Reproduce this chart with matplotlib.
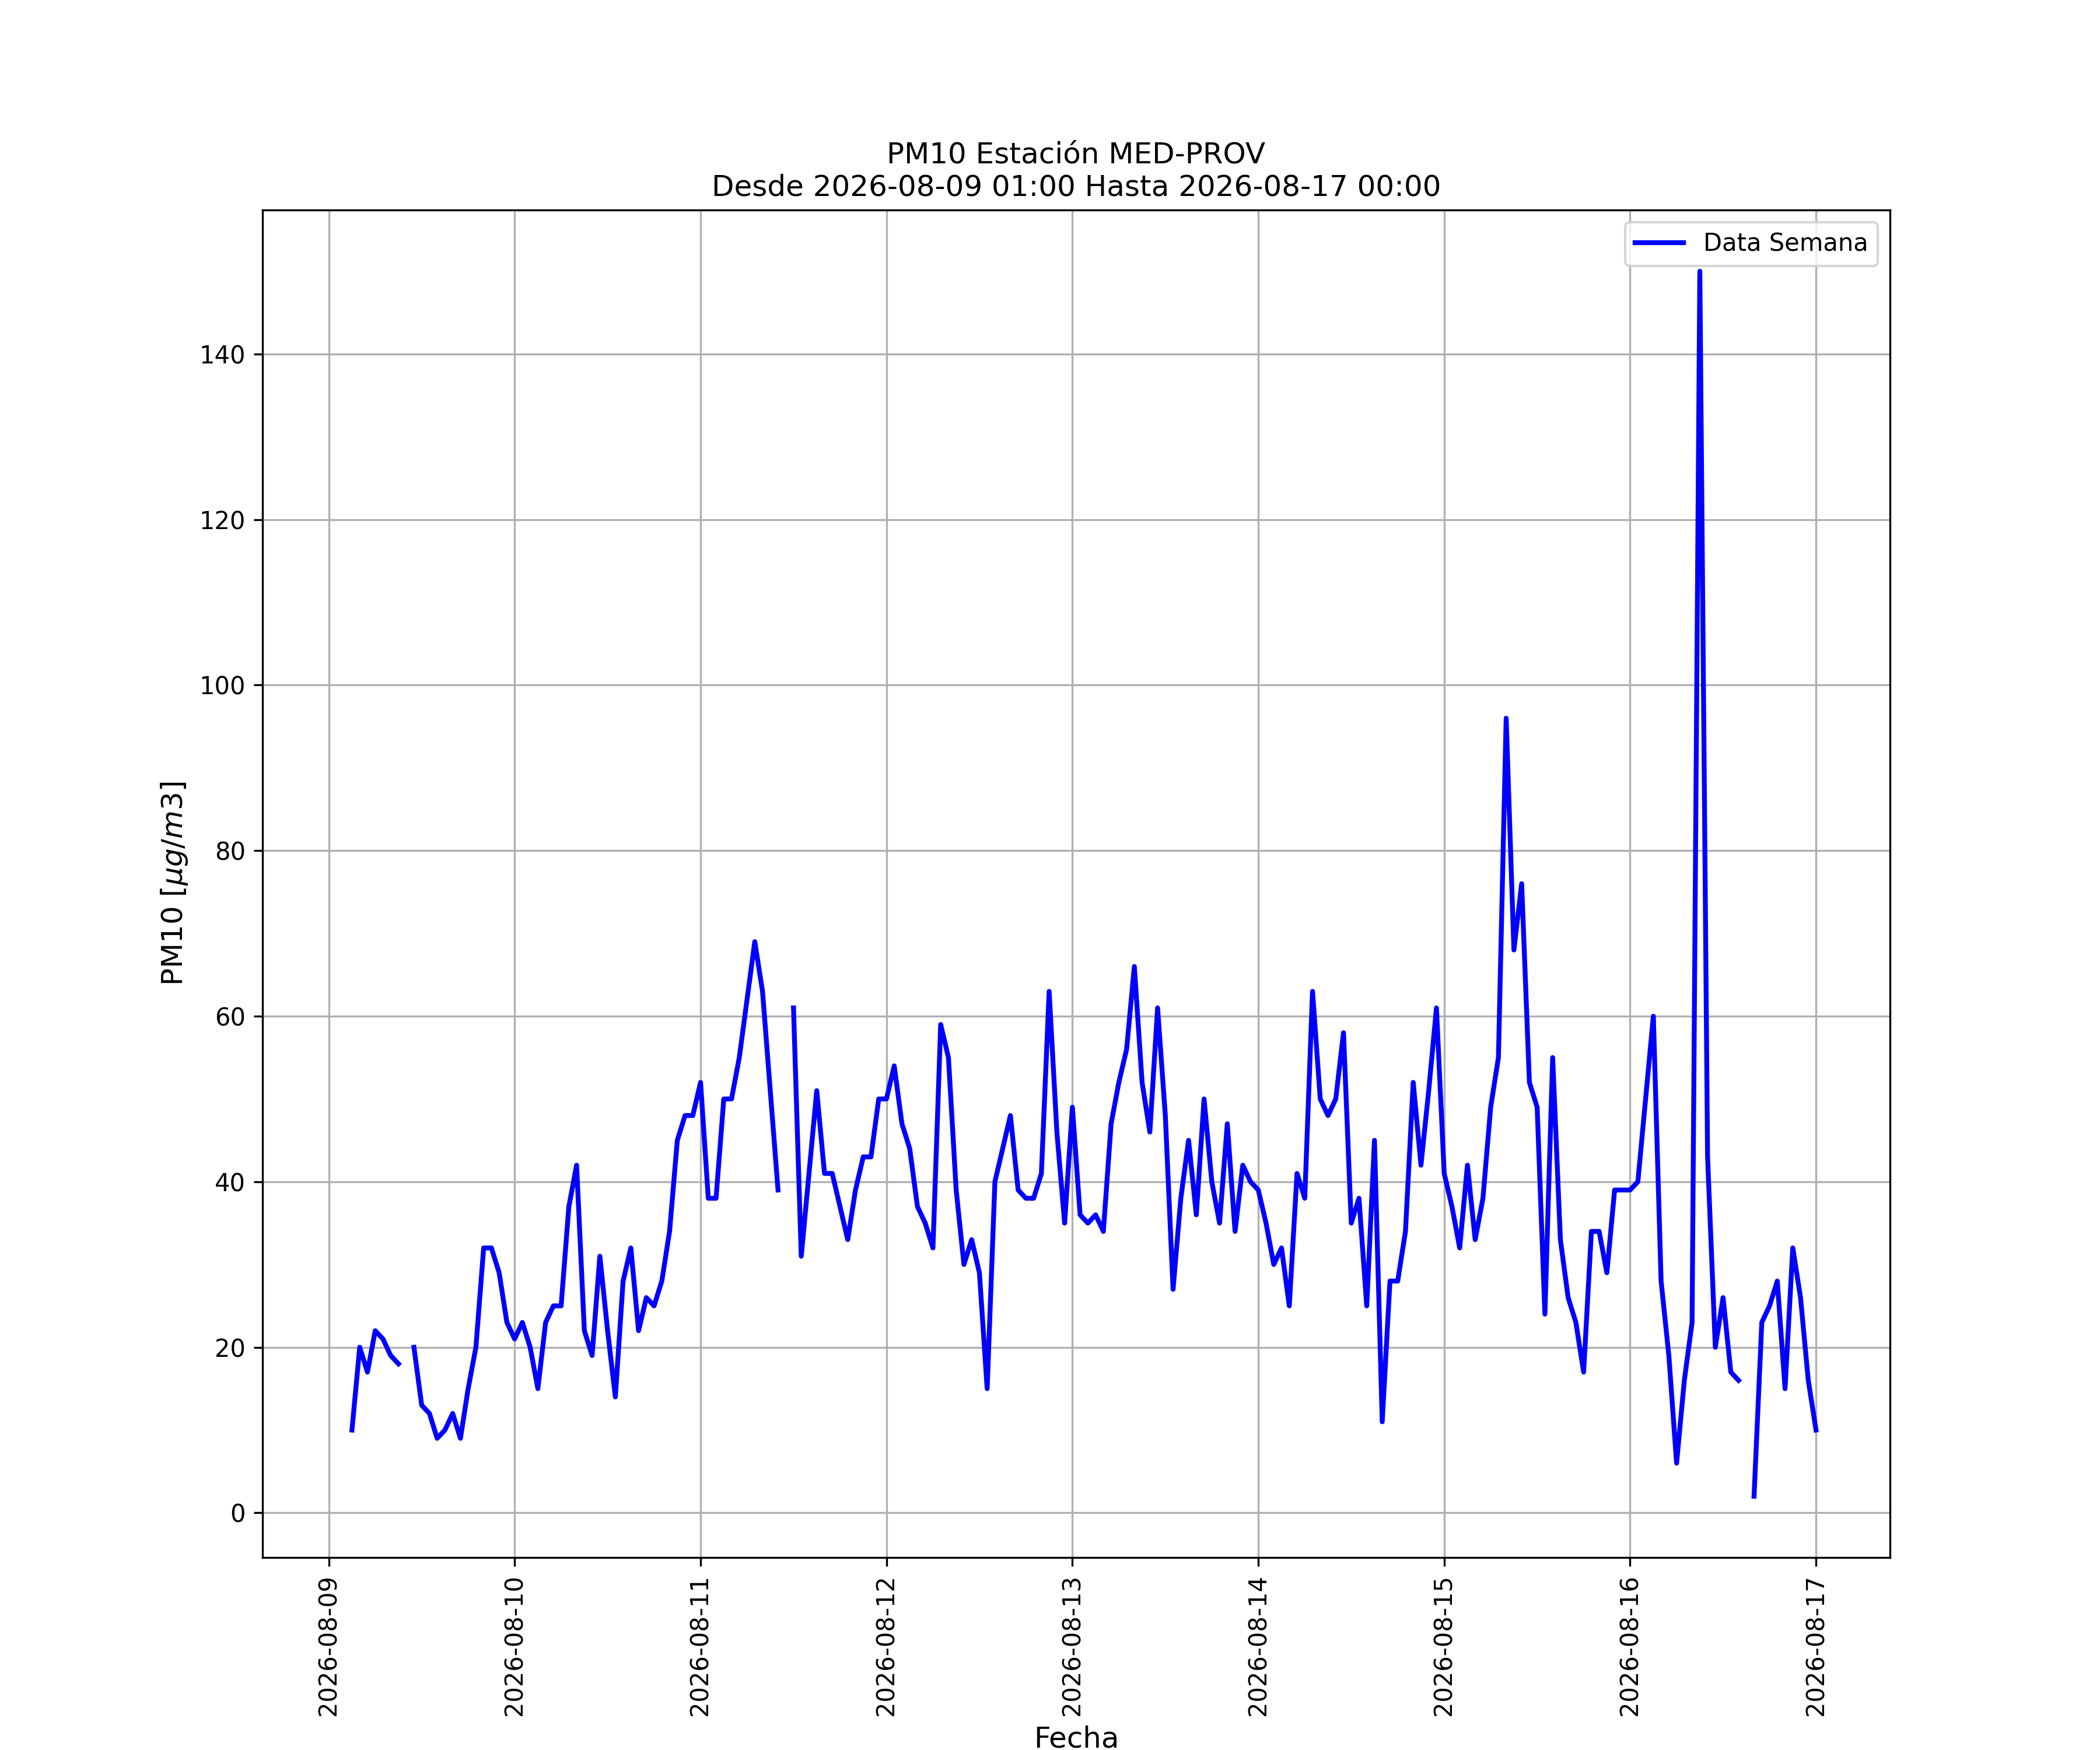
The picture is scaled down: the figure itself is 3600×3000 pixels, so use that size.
"""
PM10 semanal estacion MED-PROV, datos horarios.
"""
import numpy as np
import pandas as pd
import matplotlib
matplotlib.use('Agg')
import matplotlib.pyplot as plt
import matplotlib.dates as mdates

STATION = 'MED-PROV'
START = '2026-08-09 01:00'
END = '2026-08-17 00:00'

nan = np.nan

# valores horarios, un bloque por dia (01:00 .. 00:00 del dia siguiente)
day_09 = [nan, nan, 10, 20, 17, 22, 21, 19, 18, nan, 20, 13,
          12, 9, 10, 12, 9, 15, 20, 32, 32, 29, 23, 21]
day_10 = [23, 20, 15, 23, 25, 25, 37, 42, 22, 19, 31, 22,
          14, 28, 32, 22, 26, 25, 28, 34, 45, 48, 48, 52]
day_11 = [38, 38, 50, 50, 55, 62, 69, 63, 51, 39, nan, 61,
          31, 41, 51, 41, 41, 37, 33, 39, 43, 43, 50, 50]
day_12 = [54, 47, 44, 37, 35, 32, 59, 55, 39, 30, 33, 29,
          15, 40, 44, 48, 39, 38, 38, 41, 63, 46, 35, 49]
day_13 = [36, 35, 36, 34, 47, 52, 56, 66, 52, 46, 61, 48,
          27, 38, 45, 36, 50, 40, 35, 47, 34, 42, 40, 39]
day_14 = [35, 30, 32, 25, 41, 38, 63, 50, 48, 50, 58, 35,
          38, 25, 45, 11, 28, 28, 34, 52, 42, 51, 61, 41]
day_15 = [37, 32, 42, 33, 38, 49, 55, 96, 68, 76, 52, 49,
          24, 55, 33, 26, 23, 17, 34, 34, 29, 39, 39, 39]
day_16 = [40, 50, 60, 28, 19, 6, 16, 23, 150, 43, 20, 26,
          17, 16, nan, 2, 23, 25, 28, 15, 32, 26, 16, 10]

pm10 = day_09 + day_10 + day_11 + day_12 + day_13 + day_14 + day_15 + day_16


def main():
    fechas = pd.date_range(START, END, freq='h')
    df = pd.DataFrame({'PM10': pm10}, index=fechas)

    fig, ax = plt.subplots(figsize=(12, 10), dpi=300)
    ax.plot(df.index, df['PM10'], 'b-', linewidth=2, label='Data Semana')

    # margen de 5% sobre todo el rango pedido (incluye horas sin dato)
    span = df.index[-1] - df.index[0]
    ax.set_xlim(df.index[0] - 0.05 * span, df.index[-1] + 0.05 * span)

    ax.xaxis.set_major_locator(mdates.DayLocator())
    ax.xaxis.set_major_formatter(mdates.DateFormatter('%Y-%m-%d'))
    plt.setp(ax.get_xticklabels(), rotation=90)

    ax.set_title(f'PM10 Estación {STATION}\nDesde {START} Hasta {END}', fontsize=12)
    ax.set_xlabel('Fecha', fontsize=12)
    ax.set_ylabel(r'PM10 [$\mu g/m3$]', fontsize=12)
    ax.grid(True)
    ax.legend(loc='upper right')

    fig.savefig('out.png', dpi=300)


if __name__ == '__main__':
    main()
